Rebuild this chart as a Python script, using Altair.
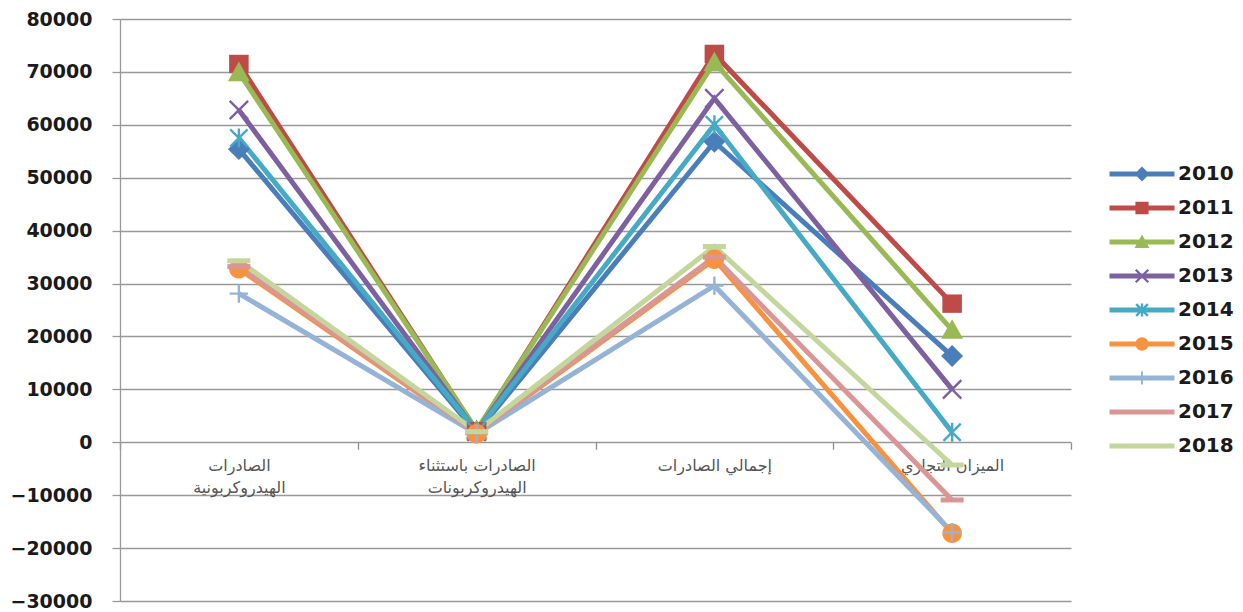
import altair as alt
import pandas as pd

categories = [
    "الصادرات|الهيدروكربونية",
    "الصادرات باستثناء|الهيدروكربونات",
    "إجمالي الصادرات",
    "الميزان التجاري",
]
years = ["2010", "2011", "2012", "2013", "2014", "2015", "2016", "2017", "2018"]

v2010 = [55400, 1800, 56800, 16300]
v2011 = [71500, 2100, 73400, 26200]
v2012 = [69900, 2300, 71800, 21200]
v2013 = [62800, 2000, 65000, 10000]
v2014 = [57500, 2100, 60000, 1900]
v2015 = [32800, 1600, 34600, -17200]
v2016 = [28100, 1600, 29600, -17000]
v2017 = [33200, 1800, 35000, -10900]
v2018 = [34300, 2000, 37000, -4300]
series = [v2010, v2011, v2012, v2013, v2014, v2015, v2016, v2017, v2018]

colors = ["#4A7EBB", "#BE4B48", "#98B954", "#7D60A0", "#46AAC5",
          "#F69240", "#95B3D7", "#D99694", "#C3D69B"]

y_ticks = list(range(-30000, 80001, 10000))

rows = []
for yr, vals in zip(years, series):
    for i, (c, v) in enumerate(zip(categories, vals)):
        rows.append({"year": yr, "cat": c, "value": v, "idx": i})
df = pd.DataFrame(rows)


# ---- symbol path helpers (unit square, scaled by Vega) ----
def f(v):
    return f"{v:.3f}"


def rect(hw, hh, cx=0.0, cy=0.0):
    return (f"M{f(cx-hw)},{f(cy-hh)}H{f(cx+hw)}V{f(cy+hh)}H{f(cx-hw)}Z")


def seg(x1, y1, x2, y2, w):
    dx, dy = x2 - x1, y2 - y1
    L = (dx * dx + dy * dy) ** 0.5
    nx, ny = dy / L * w, -dx / L * w
    return (f"M{f(x1+nx)},{f(y1+ny)}L{f(x2+nx)},{f(y2+ny)}"
            f"L{f(x2-nx)},{f(y2-ny)}L{f(x1-nx)},{f(y1-ny)}Z")


def diamond(r):
    return f"M0,{f(-r)}L{f(r)},0L0,{f(r)}L{f(-r)},0Z"


def triangle(r):
    return f"M0,{f(-r)}L{f(r)},{f(0.8*r)}L{f(-r)},{f(0.8*r)}Z"


def circle(r):
    return (f"M{f(-r)},0A{f(r)},{f(r)} 0 1,1 {f(r)},0"
            f"A{f(r)},{f(r)} 0 1,1 {f(-r)},0Z")


def xmark(r, w):
    return seg(-r, -r, r, r, w) + seg(-r, r, r, -r, w)


def asterisk(r, w):
    return xmark(r, w) + rect(w, r * 1.1)


def plus(r, w):
    return rect(r, w) + rect(w, r)


def markers(k, legend=False):
    dash = "" if legend else rect(1.15, 0.25)
    return [
        diamond(0.95 * k),
        rect(0.85 * k, 0.8 * k),
        triangle(0.95 * k),
        xmark(0.8 * k, 0.12),
        asterisk(0.75 * k, 0.12),
        circle(0.85 * k),
        plus(0.8 * k, 0.12) if not legend else rect(0.1, 0.65),
        dash,
        dash,
    ]


plot_markers = markers(1.15)
bar = rect(3.25, 0.25)
legend_markers = [bar + m for m in markers(0.78, legend=True)]

W, H = 951, 582
zero_offset = -(H - H * 80000 / 110000)

x_enc = alt.X(
    "cat:N",
    sort=categories,
    bandPosition=0.5,
    scale=alt.Scale(type="band", paddingInner=0, paddingOuter=0),
    axis=alt.Axis(
        title=None,
        offset=zero_offset,
        domain=False,
        tickBand="extent",
        tickSize=7,
        tickColor="#8f8f8f",
        tickWidth=1.3,
        labelAngle=0,
        labelExpr="split(datum.label, '|')",
        labelFont="DejaVu Sans",
        labelFontSize=16,
        labelColor="#555555",
        labelLineHeight=22,
        labelPadding=8,
        grid=False,
    ),
)
y_enc = alt.Y(
    "value:Q",
    scale=alt.Scale(domain=[-30000, 80000], nice=False, zero=False),
    axis=alt.Axis(
        title=None,
        values=y_ticks,
        format="d",
        grid=True,
        gridColor="#999999",
        gridWidth=1.3,
        domainColor="#999999",
        domainWidth=1.3,
        tickColor="#999999",
        tickWidth=1.3,
        tickSize=8,
        labelPadding=20,
        labelFont="DejaVu Sans",
        labelFontWeight="bold",
        labelFontSize=19,
        labelColor="#1a1a1a",
    ),
)

color_scale = alt.Scale(domain=years, range=colors)

base = alt.Chart(df)

lines = base.mark_line(strokeWidth=5).encode(
    x=x_enc,
    y=y_enc,
    color=alt.Color("year:N", scale=color_scale, legend=None),
    order=alt.Order("idx:Q"),
)

points = base.mark_point(filled=True, size=400, opacity=1).encode(
    x=x_enc,
    y=y_enc,
    color=alt.Color("year:N", scale=color_scale, legend=None),
    shape=alt.Shape("year:N", scale=alt.Scale(domain=years, range=plot_markers), legend=None),
)

leg = alt.Legend(
    title=None,
    orient="none",
    legendX=1012,
    legendY=145,
    padding=0,
    symbolSize=400,
    symbolStrokeWidth=0,
    symbolOpacity=1,
    rowPadding=14,
    labelOffset=26,
    labelFont="DejaVu Sans",
    labelFontWeight="bold",
    labelFontSize=20,
    labelColor="#1a1a1a",
)

legend_layer = base.mark_point(filled=True, size=400, opacity=0).encode(
    x=x_enc,
    y=y_enc,
    fill=alt.Fill("year:N", scale=alt.Scale(domain=years, range=colors), legend=leg),
    shape=alt.Shape("year:N", scale=alt.Scale(domain=years, range=legend_markers), legend=leg),
)

chart = (
    alt.layer(lines, points, legend_layer)
    .resolve_scale(shape="independent", fill="independent")
    .properties(
        width=W,
        height=H,
        autosize=alt.AutoSizeParams(type="none"),
        padding={"left": 112, "top": 11, "right": 164, "bottom": 11},
        background="white",
    )
    .configure_view(stroke=None)
)

chart.save("out.html", embed_options={"renderer": "svg", "actions": False})
